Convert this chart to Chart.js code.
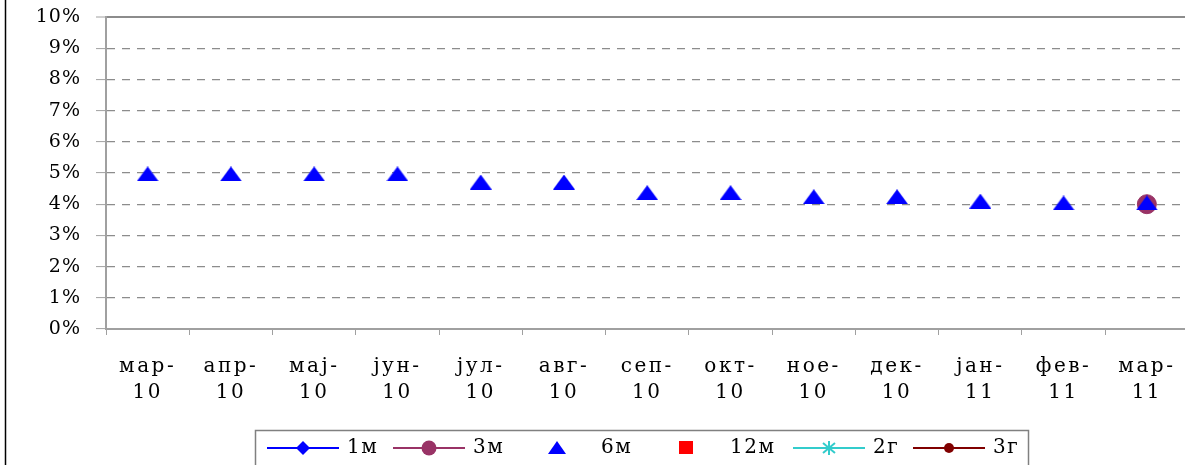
<!DOCTYPE html>
<html>
<head>
<meta charset="utf-8">
<script src="https://cdn.jsdelivr.net/npm/chart.js@4.4.1/dist/chart.umd.min.js"></script>
<style>
  html, body { margin: 0; padding: 0; background: #fff; overflow: hidden; }
  #wrap { width: 1185px; height: 465px; overflow: hidden; position: relative; }
  canvas { display: block; }
</style>
</head>
<body>
<div id="wrap"><canvas id="chart" width="1199" height="465"></canvas></div>
<script>
// categories (two-line labels as in the original sheet)
const months = [
  ['мар-', '10'], ['апр-', '10'], ['мај-', '10'], ['јун-', '10'], ['јул-', '10'],
  ['авг-', '10'], ['сеп-', '10'], ['окт-', '10'], ['ное-', '10'], ['дек-', '10'],
  ['јан-', '11'], ['фев-', '11'], ['мар-', '11']
];
const yTicks = [0, 1, 2, 3, 4, 5, 6, 7, 8, 9, 10];

// series, % values
const s1m  = [null, null, null, null, null, null, null, null, null, null, null, null, null];
const s3m  = [null, null, null, null, null, null, null, null, null, null, null, null, 4.0];
const s6m  = [4.97, 4.97, 4.97, 4.97, 4.71, 4.71, 4.37, 4.37, 4.24, 4.24, 4.1, 4.04, 4.04];
const s12m = [null, null, null, null, null, null, null, null, null, null, null, null, null];
const s2g  = [null, null, null, null, null, null, null, null, null, null, null, null, null];
const s3g  = [null, null, null, null, null, null, null, null, null, null, null, null, null];

const seriesNames = ['1м', '3м', '6м', '12м', '2г', '3г'];

const blue = '#0000ff';
const plum = '#993366';
const red = '#ff0000';
const cyan = '#33cccc';
const maroon = '#800000';
const gridGray = '#8c8c8c';
const serif = '"DejaVu Serif", "Liberation Serif", serif';

function triangleMarker(w, h, color) {
  const c = document.createElement('canvas');
  c.width = w;
  c.height = h;
  const g = c.getContext('2d');
  g.fillStyle = color;
  g.beginPath();
  g.moveTo(w / 2, 0);
  g.lineTo(w, h);
  g.lineTo(0, h);
  g.closePath();
  g.fill();
  return c;
}

const bigTriangle = triangleMarker(22, 15, blue);

// the original text is a wide face, so spread the tick labels a little
function spreadLabels(scale, spacing) {
  if (scale._spread) return;
  const orig = scale.drawLabels.bind(scale);
  scale.drawLabels = (area) => {
    const c = scale.ctx;
    c.save();
    c.letterSpacing = spacing;
    orig(area);
    c.restore();
  };
  scale._spread = true;
}

const spacing = {
  id: 'spacing',
  beforeDraw(chart) {
    spreadLabels(chart.scales.x, '2.5px');
    spreadLabels(chart.scales.y, '1px');
  }
};

// Excel style legend in a box under the plot + left edge of the chart frame
const boxLegend = {
  id: 'boxLegend',
  afterDraw(chart) {
    const ctx = chart.ctx;
    ctx.save();

    ctx.strokeStyle = '#000';
    ctx.lineWidth = 1.5;
    ctx.beginPath();
    ctx.moveTo(5.5, 0);
    ctx.lineTo(5.5, 465);
    ctx.stroke();

    ctx.strokeStyle = '#808080';
    ctx.lineWidth = 1.5;
    ctx.strokeRect(255.5, 430.5, 773, 60);

    const y = 448;
    const starts = [267, 393, 521, 650, 793, 913];
    const styles = [
      { color: blue, line: true, mark: 'diamond' },
      { color: plum, line: true, mark: 'circle', r: 7.5 },
      { color: blue, line: false, mark: 'triangle' },
      { color: red, line: false, mark: 'square' },
      { color: cyan, line: true, mark: 'star' },
      { color: maroon, line: true, mark: 'circle', r: 5 }
    ];

    ctx.font = '20px ' + serif;
    ctx.letterSpacing = '1.5px';
    ctx.textBaseline = 'middle';
    ctx.textAlign = 'left';

    seriesNames.forEach((name, i) => {
      const st = styles[i];
      const x0 = starts[i];
      const cx = x0 + 36;
      if (st.line) {
        ctx.strokeStyle = st.color;
        ctx.lineWidth = 2;
        ctx.beginPath();
        ctx.moveTo(x0, y);
        ctx.lineTo(x0 + 72, y);
        ctx.stroke();
      }
      ctx.fillStyle = st.color;
      ctx.strokeStyle = st.color;
      ctx.beginPath();
      if (st.mark === 'diamond') {
        ctx.moveTo(cx, y - 7);
        ctx.lineTo(cx + 7, y);
        ctx.lineTo(cx, y + 7);
        ctx.lineTo(cx - 7, y);
        ctx.closePath();
        ctx.fill();
      } else if (st.mark === 'circle') {
        ctx.arc(cx, y, st.r, 0, Math.PI * 2);
        ctx.fill();
      } else if (st.mark === 'triangle') {
        ctx.moveTo(cx, y - 7);
        ctx.lineTo(cx + 9, y + 6);
        ctx.lineTo(cx - 9, y + 6);
        ctx.closePath();
        ctx.fill();
      } else if (st.mark === 'square') {
        ctx.fillRect(cx - 7, y - 7, 14, 13);
      } else if (st.mark === 'star') {
        ctx.lineWidth = 2;
        ctx.moveTo(cx, y - 7);
        ctx.lineTo(cx, y + 7);
        ctx.moveTo(cx - 6, y - 5);
        ctx.lineTo(cx + 6, y + 5);
        ctx.moveTo(cx - 6, y + 5);
        ctx.lineTo(cx + 6, y - 5);
        ctx.stroke();
      }
      ctx.fillStyle = '#000';
      ctx.fillText(name, x0 + 80, y);
    });

    ctx.restore();
  }
};

const ctx = document.getElementById('chart').getContext('2d');
new Chart(ctx, {
  type: 'line',
  data: {
    labels: months,
    datasets: [
      { label: seriesNames[0], data: s1m, borderColor: blue, backgroundColor: blue, pointStyle: 'rectRot', pointRadius: 6, borderWidth: 2, order: 6 },
      { label: seriesNames[1], data: s3m, borderColor: plum, backgroundColor: plum, pointStyle: 'circle', pointRadius: 9.5, pointBorderWidth: 1, borderWidth: 2, order: 5 },
      { label: seriesNames[2], data: s6m, borderColor: blue, backgroundColor: blue, pointStyle: bigTriangle, showLine: false, order: 4 },
      { label: seriesNames[3], data: s12m, borderColor: red, backgroundColor: red, pointStyle: 'rect', pointRadius: 7, showLine: false, order: 3 },
      { label: seriesNames[4], data: s2g, borderColor: cyan, backgroundColor: cyan, pointStyle: 'star', pointRadius: 7, borderWidth: 2, order: 2 },
      { label: seriesNames[5], data: s3g, borderColor: maroon, backgroundColor: maroon, pointStyle: 'circle', pointRadius: 5, borderWidth: 2, order: 1 }
    ]
  },
  options: {
    responsive: false,
    animation: false,
    spanGaps: false,
    layout: { padding: { top: 17, right: 1, left: 0, bottom: 0 } },
    plugins: {
      legend: { display: false },
      tooltip: { enabled: false }
    },
    scales: {
      x: {
        offset: true,
        afterFit: (scale) => { scale.height = 136; },
        grid: {
          offset: true,
          drawOnChartArea: false,
          tickLength: 6,
          tickColor: '#a0a0a0',
          tickWidth: 1
        },
        border: { display: true, color: '#a0a0a0', width: 2 },
        ticks: {
          autoSkip: false,
          maxRotation: 0,
          minRotation: 0,
          padding: 19,
          color: '#000',
          font: { family: serif, size: 20, lineHeight: 1.3 }
        }
      },
      y: {
        min: 0,
        max: 10,
        afterFit: (scale) => {
          scale.width = 106;
          scale.paddingTop = 0;
          scale.paddingBottom = 0;
        },
        afterBuildTicks: (scale) => { scale.ticks = yTicks.map(v => ({ value: v })); },
        grid: {
          color: gridGray,
          lineWidth: (c) => (c.tick && c.tick.value === 10 ? 2 : 1.2),
          tickLength: 10,
          tickColor: '#a0a0a0',
          tickWidth: 1
        },
        border: {
          display: true,
          color: '#a0a0a0',
          width: 2,
          dash: (c) => (c.tick && c.tick.value === 10 ? [] : [8, 7])
        },
        ticks: {
          padding: 15,
          color: '#000',
          font: { family: serif, size: 19 },
          callback: (v) => v + '%'
        }
      }
    }
  },
  plugins: [spacing, boxLegend]
});
</script>
</body>
</html>
